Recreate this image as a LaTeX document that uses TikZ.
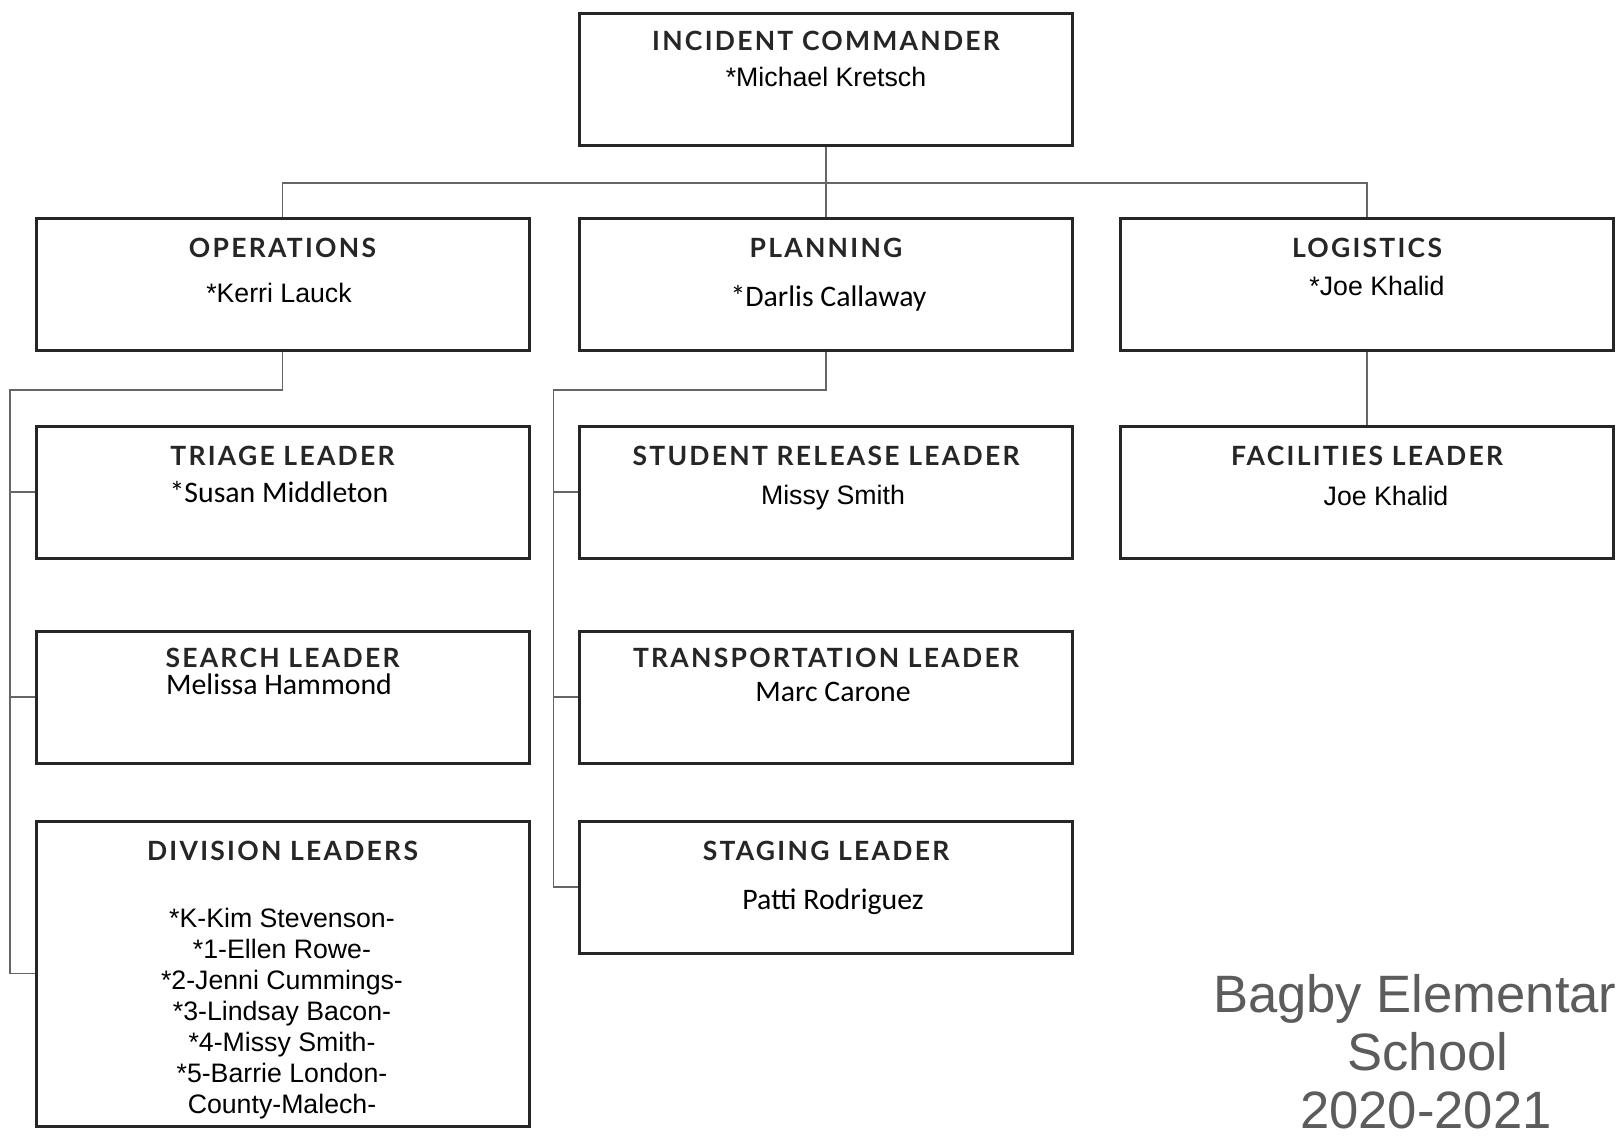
\documentclass[tikz,border=0pt]{standalone}
\usepackage{fontspec}
\setmainfont{Liberation Sans}
\newfontfamily\calibrifont{Carlito}
\newfontfamily\headfont{Lato}[LetterSpace=8.5]
\usepackage{xcolor}
\definecolor{linegray}{HTML}{666666}
\definecolor{titlegray}{HTML}{5C5C5C}

\begin{document}
\begin{tikzpicture}[
    x=1pt, y=-1pt,
    role/.style={rectangle, draw=black!85, line width=3pt, minimum width=493pt, minimum height=132pt, inner sep=0pt},
    link/.style={draw=linegray, line width=1.6pt},
    head/.style={anchor=base, inner sep=0pt, text=black!85, font=\headfont\bfseries\fontsize{26.5}{30}\selectfont},
    who/.style={anchor=base, inner sep=0pt, font=\fontsize{26.7}{30}\selectfont},
    whoc/.style={anchor=base, inner sep=0pt, font=\calibrifont\fontsize{29.8}{34}\selectfont},
    school/.style={anchor=base, inner sep=0pt, text=titlegray, font=\fontsize{52.6}{58}\selectfont}
]
\useasboundingbox (0,0) rectangle (1616,1136);
\fill[white] (0,0) rectangle (1616,1136);
\clip (0,0) rectangle (1616,1136);

% Command level
\node[role] (ic) at (826,79) {};
\node[head] (ictitle) at (826,50.7) {INCIDENT COMMANDER};
\node[who] (icname) at (826,86) {*Michael Kretsch};

% Section chiefs
\node[role] (ops) at (282.5,284) {};
\node[role] (plan) at (826,284) {};
\node[role] (log) at (1367,284) {};
\node[head] (opstitle) at (282.5,257) {OPERATIONS};
\node[who] (opsname) at (279,302) {*Kerri Lauck};
\node[head] (plantitle) at (826,257) {PLANNING};
\node[whoc] (planname) at (828.5,306) {*Darlis Callaway};
\node[head] (logtitle) at (1367,257) {LOGISTICS};
\node[who] (logname) at (1377,295) {*Joe Khalid};

% Lines from the commander
\coordinate (bar) at (826,183);
\draw[link] (ic.south) -- (bar);
\draw[link] (ops.north) |- (bar) -| (log.north);
\draw[link] (bar) -- (plan.north);

% Operations branch
\node[role] (triage) at (282.5,492) {};
\node[role] (search) at (282.5,697) {};
\node[role, minimum height=305pt] (div) at (282.5,973.5) {};
\node[head] (triagetitle) at (282.5,465) {TRIAGE LEADER};
\node[whoc] (triagename) at (279,502.7) {*Susan Middleton};
\node[head] (searchtitle) at (282.5,667) {SEARCH LEADER};
\node[whoc] (searchname) at (279,694) {Melissa Hammond};
\node[head] (divtitle) at (282.5,860) {DIVISION LEADERS};
\foreach \lead [count=\i from 0] in {*K-Kim Stevenson-, *1-Ellen Rowe-, *2-Jenni Cummings-,
    *3-Lindsay Bacon-, *4-Missy Smith-, *5-Barrie London-, County-Malech-}
  \node[who] (divname\i) at (282,927+31*\i) {\lead};

\coordinate (opsbus) at (10,390);
\draw[link] (ops.south) |- (opsbus) |- (div.west);
\draw[link] (opsbus) |- (triage.west);
\draw[link] (opsbus) |- (search.west);

% Planning branch
\node[role] (release) at (826,492) {};
\node[role] (transport) at (826,697) {};
\node[role] (staging) at (826,887) {};
\node[head] (releasetitle) at (826,465) {STUDENT RELEASE LEADER};
\node[who] (releasename) at (833,504) {Missy Smith};
\node[head] (transporttitle) at (826,667) {TRANSPORTATION LEADER};
\node[whoc] (transportname) at (833,701) {Marc Carone};
\node[head] (stagingtitle) at (826,860) {STAGING LEADER};
\node[whoc] (stagingname) at (833,909) {Patti Rodriguez};

\coordinate (planbus) at (553.5,390);
\draw[link] (plan.south) |- (planbus) |- (staging.west);
\draw[link] (planbus) |- (release.west);
\draw[link] (planbus) |- (transport.west);

% Logistics branch
\node[role] (facil) at (1367,492) {};
\node[head] (faciltitle) at (1367,465) {FACILITIES LEADER};
\node[who] (facilname) at (1386,505) {Joe Khalid};
\draw[link] (log.south) -- (facil.north);

% School name
\node[school] (school1) at (1428,1012.7) {Bagby Elementary};
\node[school] (school2) at (1428,1070) {School};
\node[school] (school3) at (1426,1128) {2020-2021};

\end{tikzpicture}
\end{document}
